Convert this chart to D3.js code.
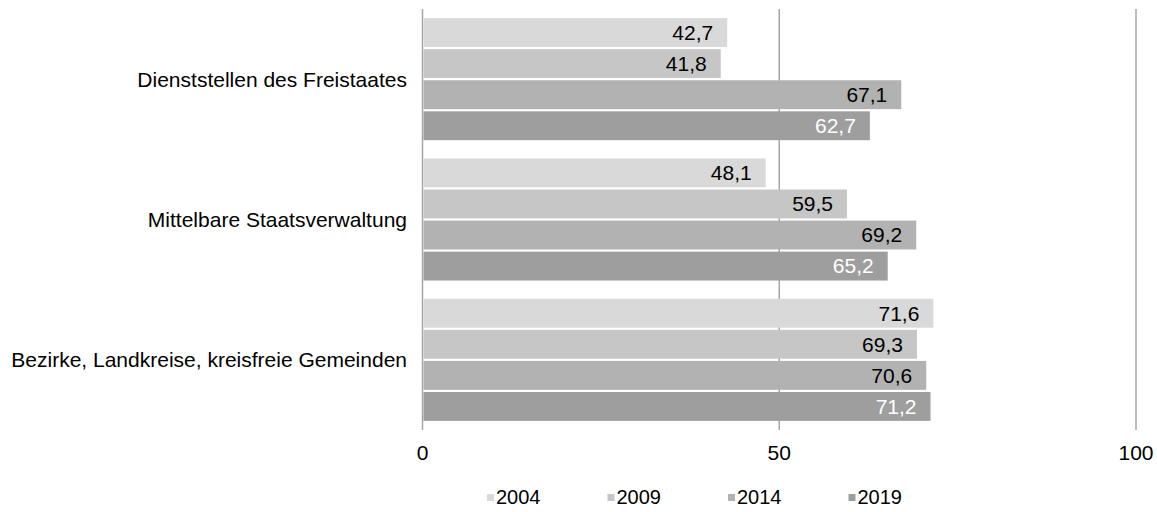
<!DOCTYPE html>
<html>
<head>
<meta charset="utf-8">
<script src="https://cdn.jsdelivr.net/npm/d3@7"></script>
<style>
  body { margin: 0; background: #fff; }
  text { font-family: "Liberation Sans", Arial, sans-serif; }
</style>
</head>
<body>
<svg id="chart" width="1157" height="512"></svg>
<script>
const categories = ['Dienststellen des Freistaates', 'Mittelbare Staatsverwaltung', 'Bezirke, Landkreise, kreisfreie Gemeinden'];
const years = ['2004', '2009', '2014', '2019'];
const values2004 = [42.7, 48.1, 71.6];
const values2009 = [41.8, 59.5, 69.3];
const values2014 = [67.1, 69.2, 70.6];
const values2019 = [62.7, 65.2, 71.2];
const xTicks = [0, 50, 100];

const seriesValues = [values2004, values2009, values2014, values2019];
const colors = ['#d9d9d9', '#c6c6c6', '#b2b2b2', '#9e9e9e'];
const labelColors = ['#000', '#000', '#000', '#fff'];

const rows = categories.map((c, i) => ({
  category: c,
  values: years.map((y, j) => ({ year: y, value: seriesValues[j][i], idx: j }))
}));

const svg = d3.select('#chart');
const plotTop = 9, plotBottom = 430;
const fontSize = '21px';

const x = d3.scaleLinear().domain([0, 100]).range([422.5, 1136]);

const y0 = d3.scaleBand()
  .domain(categories)
  .range([plotTop, plotBottom])
  .paddingInner(0.13)
  .paddingOuter(0.065);

const y1 = d3.scaleBand()
  .domain(years)
  .range([0, y0.bandwidth()])
  .paddingInner(0.07);

const fmt = d3.formatLocale({ decimal: ',', thousands: '.', grouping: [3], currency: ['', '€'] }).format('.1f');

// gridlines
svg.append('g')
  .selectAll('line')
  .data(xTicks)
  .enter().append('line')
  .attr('x1', d => x(d))
  .attr('x2', d => x(d))
  .attr('y1', plotTop)
  .attr('y2', plotBottom)
  .attr('stroke', '#a6a6a6')
  .attr('stroke-width', 1.5);

const groups = svg.append('g')
  .selectAll('g')
  .data(rows)
  .enter().append('g')
  .attr('transform', d => `translate(0,${y0(d.category)})`);

groups.selectAll('rect')
  .data(d => d.values)
  .enter().append('rect')
  .attr('x', x(0) + 1)
  .attr('y', d => y1(d.year))
  .attr('width', d => x(d.value) - x(0) - 1)
  .attr('height', y1.bandwidth())
  .attr('fill', d => colors[d.idx]);

groups.selectAll('text.val')
  .data(d => d.values)
  .enter().append('text')
  .attr('class', 'val')
  .attr('x', d => x(d.value) - 14)
  .attr('y', d => y1(d.year) + y1.bandwidth() / 2)
  .attr('dy', '0.35em')
  .attr('text-anchor', 'end')
  .style('font-size', fontSize)
  .attr('fill', d => labelColors[d.idx])
  .text(d => fmt(d.value));

// category labels
svg.append('g')
  .selectAll('text')
  .data(categories)
  .enter().append('text')
  .attr('x', 407)
  .attr('y', d => y0(d) + y0.bandwidth() / 2)
  .attr('dy', '0.35em')
  .attr('text-anchor', 'end')
  .style('font-size', fontSize)
  .attr('fill', '#000')
  .text(d => d);

// x tick labels
svg.append('g')
  .selectAll('text')
  .data(xTicks)
  .enter().append('text')
  .attr('x', d => x(d))
  .attr('y', 460)
  .attr('text-anchor', 'middle')
  .style('font-size', fontSize)
  .attr('fill', '#000')
  .text(d => d);

// legend
const legend = svg.append('g')
  .selectAll('g')
  .data(years)
  .enter().append('g')
  .attr('transform', (d, i) => `translate(${487 + i * 120.5}, 497)`);

legend.append('rect')
  .attr('x', 0)
  .attr('y', -3)
  .attr('width', 7)
  .attr('height', 7)
  .attr('fill', (d, i) => colors[i]);

legend.append('text')
  .attr('x', 9)
  .attr('y', 0)
  .attr('dy', '0.35em')
  .style('font-size', '20px')
  .attr('fill', '#000')
  .text(d => d);
</script>
</body>
</html>
